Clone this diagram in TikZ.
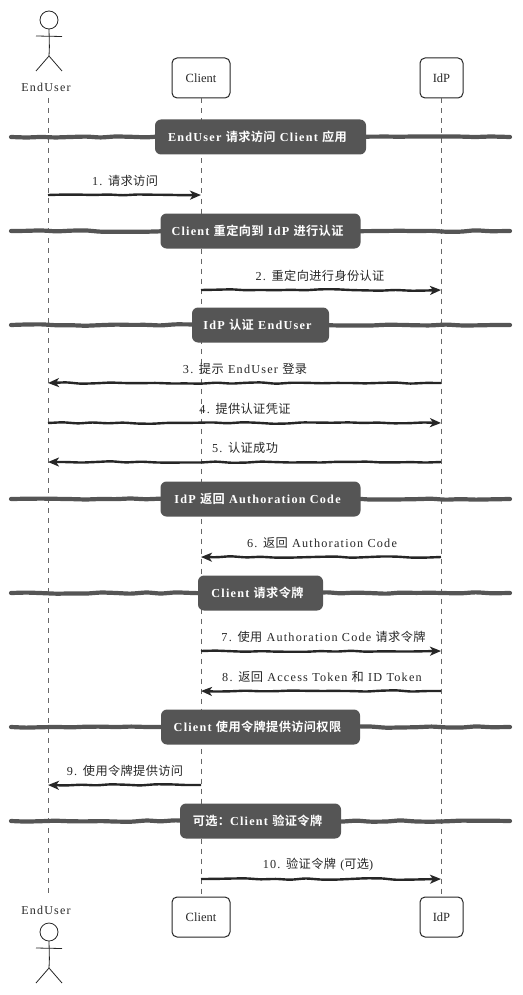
\documentclass[tikz,border=0pt]{standalone}
\usepackage{fontspec}
\usepackage{tikz}
\usetikzlibrary{arrows.meta, decorations.pathmorphing}
\setmainfont[LetterSpace=10]{Liberation Serif}
\newfontfamily\cnfont[LetterSpace=3,BoldFont={Noto Sans CJK SC Bold}]{Noto Sans CJK SC}
\newfontfamily\plainfont{Liberation Serif}
\newcommand{\cn}[1]{{\cnfont #1}}
\definecolor{inkdark}{HTML}{262626}
\definecolor{bargray}{HTML}{555555}
\definecolor{linegray}{HTML}{666666}
\tikzset{
    rough/.style={decorate, decoration={random steps, segment length=15pt, amplitude=0.8pt}, rounded corners=3pt},
    actorbox/.style={draw=inkdark, line width=1pt, fill=white, minimum height=40pt, rounded corners=5pt, font=\plainfont\fontsize{12.5pt}{14pt}\selectfont, text=inkdark},
    actorlabel/.style={font=\fontsize{12pt}{14pt}\selectfont, text=inkdark},
    lifeline/.style={draw=linegray, line width=0.7pt, dash pattern=on 5pt off 5pt},
    barline/.style={draw=bargray, line width=4.2pt, line cap=round, rough},
    barbox/.style={fill=bargray, minimum height=35pt, rounded corners=6pt, text=white, font=\bfseries\fontsize{12.2pt}{14pt}\selectfont, execute at end node={\hspace*{6pt}}},
    msgline/.style={draw=inkdark, line width=2.4pt, rough, -{Stealth[length=11pt, width=9pt, inset=3pt]}},
    msglabel/.style={font=\fontsize{12.2pt}{14pt}\selectfont, text=inkdark},
    stickman/.pic={
        \draw[inkdark, line width=0.8pt] (0,-9) circle (9pt);
        \draw[inkdark, line width=0.8pt] (0,0) -- (0.4,18) -- (0,27);
        \draw[inkdark, line width=0.8pt] (-13,7) -- (13,7.5);
        \draw[inkdark, line width=0.8pt] (-13,42) -- (0,27) -- (13,42);
    }
}
\begin{document}
\begin{tikzpicture}[x=1pt, y=-1pt]
    \useasboundingbox (0,0) rectangle (522,995);

    % Actors
    \pic at (49,29) {stickman};
    \node[actorlabel] (eutop) at (46,87) {EndUser};
    \node[actorbox, minimum width=58pt] (cltop) at (201,78) {Client};
    \node[actorbox, minimum width=43pt] (idptop) at (441.5,78) {IdP};

    \node[actorlabel] (eubot) at (46,910) {EndUser};
    \node[actorbox, minimum width=58pt] (clbot) at (201,917) {Client};
    \node[actorbox, minimum width=43pt] (idpbot) at (441.5,917) {IdP};
    \pic at (49,941) {stickman};

    % Lifelines
    \coordinate (eustart) at (48,98);
    \coordinate (euend) at (48,897);
    \draw[lifeline] (eustart) -- (euend);
    \draw[lifeline] (cltop) -- (clbot);
    \draw[lifeline] (idptop) -- (idpbot);

    % Section bars
    \foreach \n/\y/\w/\t in {
        1/137/211/{EndUser \cn{请求访问} Client \cn{应用}},
        2/231/200/{Client \cn{重定向到} IdP \cn{进行认证}},
        3/325/137/{IdP \cn{认证} EndUser},
        4/499/200/{IdP \cn{返回} Authoration Code},
        5/593/125/{Client \cn{请求令牌}},
        6/727/199/{Client \cn{使用令牌提供访问权限}},
        7/821/161/{\cn{可选：}Client \cn{验证令牌}}} {
        \coordinate (barl\n) at (11,\y);
        \coordinate (barr\n) at (510,\y);
        \draw[barline] (barl\n) -- (barr\n);
        \node[barbox, minimum width=\w pt] (bar\n) at (260.5,\y) {\t};
    }

    % Messages
    \foreach \n/\y/\a/\b/\lx/\t in {
        1/195/48/201/125/{1. \cn{请求访问}},
        2/290/201/441/320/{2. \cn{重定向进行身份认证}},
        3/383/441/48/245/{3. \cn{提示} EndUser \cn{登录}},
        4/423/48/441/245/{4. \cn{提供认证凭证}},
        5/462/441/48/245/{5. \cn{认证成功}},
        6/557/441/201/322/{6. \cn{返回} Authoration Code},
        7/651/201/441/323.5/{7. \cn{使用} Authoration Code \cn{请求令牌}},
        8/691/441/201/322/{8. \cn{返回} Access Token \cn{和} ID Token},
        9/785/201/48/125/{9. \cn{使用令牌提供访问}},
        10/879/201/441/318/{10. \cn{验证令牌} (\cn{可选})}} {
        \coordinate (from\n) at (\a,\y);
        \coordinate (to\n) at (\b,\y);
        \draw[msgline] (from\n) -- (to\n);
        \node[msglabel] (msg\n) at (\lx,\y-14) {\t};
    }
\end{tikzpicture}
\end{document}
